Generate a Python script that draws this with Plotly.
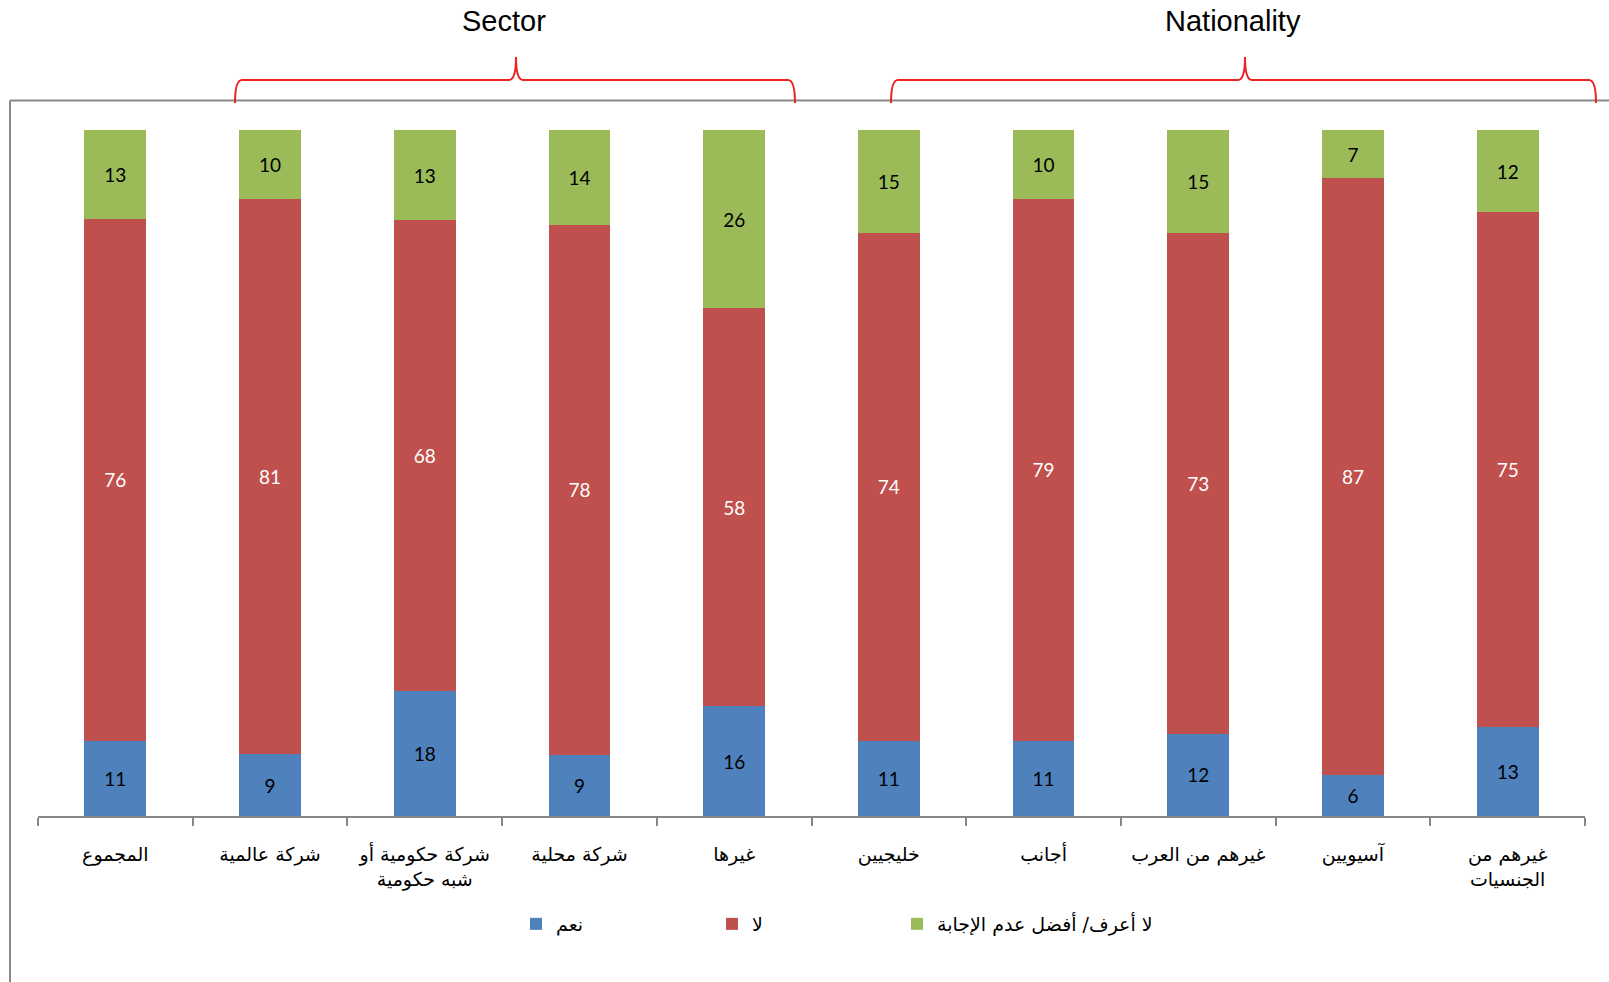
import plotly.graph_objects as go

W, H = 1609, 982
L, R, T, B = 38, 24, 130, 166

categories = [
    "المجموع",
    "شركة عالمية",
    "شركة حكومية أو<br>شبه حكومية",
    "شركة محلية",
    "غيرها",
    "خليجيين",
    "أجانب",
    "غيرهم من العرب",
    "آسيويين",
    "غيرهم من<br>الجنسيات",
]
yes_vals = [11, 9, 18, 9, 16, 11, 11, 12, 6, 13]
no_vals = [76, 81, 68, 78, 58, 74, 79, 73, 87, 75]
dk_vals = [13, 10, 13, 14, 26, 15, 10, 15, 7, 12]

series = [
    # name, values, bar colour, label colour, legend id, legend left px
    ("نعم", yes_vals, "#4F81BD", "black", "legend", 516),
    ("لا", no_vals, "#C0504D", "white", "legend2", 712),
    ("لا أعرف/ أفضل عدم الإجابة", dk_vals, "#9BBB59", "black", "legend3", 897),
]

groups = [
    # title, left px, tip px, right px
    ("Sector", 235, 516, 795),
    ("Nationality", 891, 1245, 1596),
]


def px(x):
    return (x - L) / (W - L - R)


def py(y):
    return (H - B - y) / (H - T - B)


fig = go.Figure()
legends = {}
for name, vals, color, tcolor, leg, lx in series:
    fig.add_trace(
        go.Bar(
            x=categories,
            y=vals,
            name=name,
            legend=leg,
            showlegend=True,
            marker={"color": color, "line": {"width": 0}},
            text=vals,
            texttemplate="%{text}",
            textposition="inside",
            insidetextanchor="middle",
            textangle=0,
            constraintext="none",
            insidetextfont={"family": "Lato, Calibri, sans-serif", "size": 19, "color": tcolor},
        )
    )
    legends[leg] = dict(
        orientation="h",
        x=px(lx),
        xanchor="left",
        y=py(924),
        yanchor="middle",
        font={"size": 19, "color": "black"},
        bgcolor="rgba(0,0,0,0)",
    )

shapes = [
    # chart area frame (top and left)
    dict(type="line", xref="paper", yref="paper", x0=px(10), x1=px(W + 5),
         y0=py(100.5), y1=py(100.5), line={"color": "#878787", "width": 2}),
    dict(type="line", xref="paper", yref="paper", x0=px(10), x1=px(10),
         y0=py(100.5), y1=py(H + 5), line={"color": "#878787", "width": 2}),
]
annotations = []
for title, x0, xm, x1 in groups:
    yb, yh, yt = 103, 80, 57
    pts = [
        ("M", [(x0, yb)]),
        ("Q", [(x0, yh), (x0 + 7, yh)]),
        ("L", [(xm - 7, yh)]),
        ("Q", [(xm, yh), (xm, yt)]),
        ("Q", [(xm, yh), (xm + 7, yh)]),
        ("L", [(x1 - 7, yh)]),
        ("Q", [(x1, yh), (x1, yb)]),
    ]
    path = " ".join(
        cmd + " " + " ".join(f"{px(a):.5f},{py(b):.5f}" for a, b in p) for cmd, p in pts
    )
    shapes.append(dict(type="path", xref="paper", yref="paper", path=path,
                       line={"color": "#EE2222", "width": 2}))
    annotations.append(dict(
        text=title, xref="paper", yref="paper", x=px(xm - 12), y=py(21),
        xanchor="center", yanchor="middle", showarrow=False,
        font={"family": "Liberation Sans, Arial", "size": 29, "color": "black"},
    ))

fig.update_layout(
    width=W,
    height=H,
    showlegend=True,
    barmode="stack",
    barnorm="percent",
    bargap=0.6,
    paper_bgcolor="white",
    plot_bgcolor="white",
    margin={"l": L, "r": R, "t": T, "b": B},
    font={"family": "DejaVu Sans, Arial", "color": "black"},
    shapes=shapes,
    annotations=annotations,
    **legends,
)
fig.update_xaxes(
    showline=True,
    linecolor="#878787",
    linewidth=2,
    ticks="outside",
    tickson="boundaries",
    ticklen=8,
    tickwidth=2,
    tickcolor="#878787",
    tickfont={"size": 19, "color": "black"},
    ticklabelstandoff=20,
    showgrid=False,
)
fig.update_yaxes(range=[0, 100], visible=False, showgrid=False)

fig.write_html(
    "out.html",
    config={"displayModeBar": False},
    post_script="document.body.style.margin = '0';",
)
